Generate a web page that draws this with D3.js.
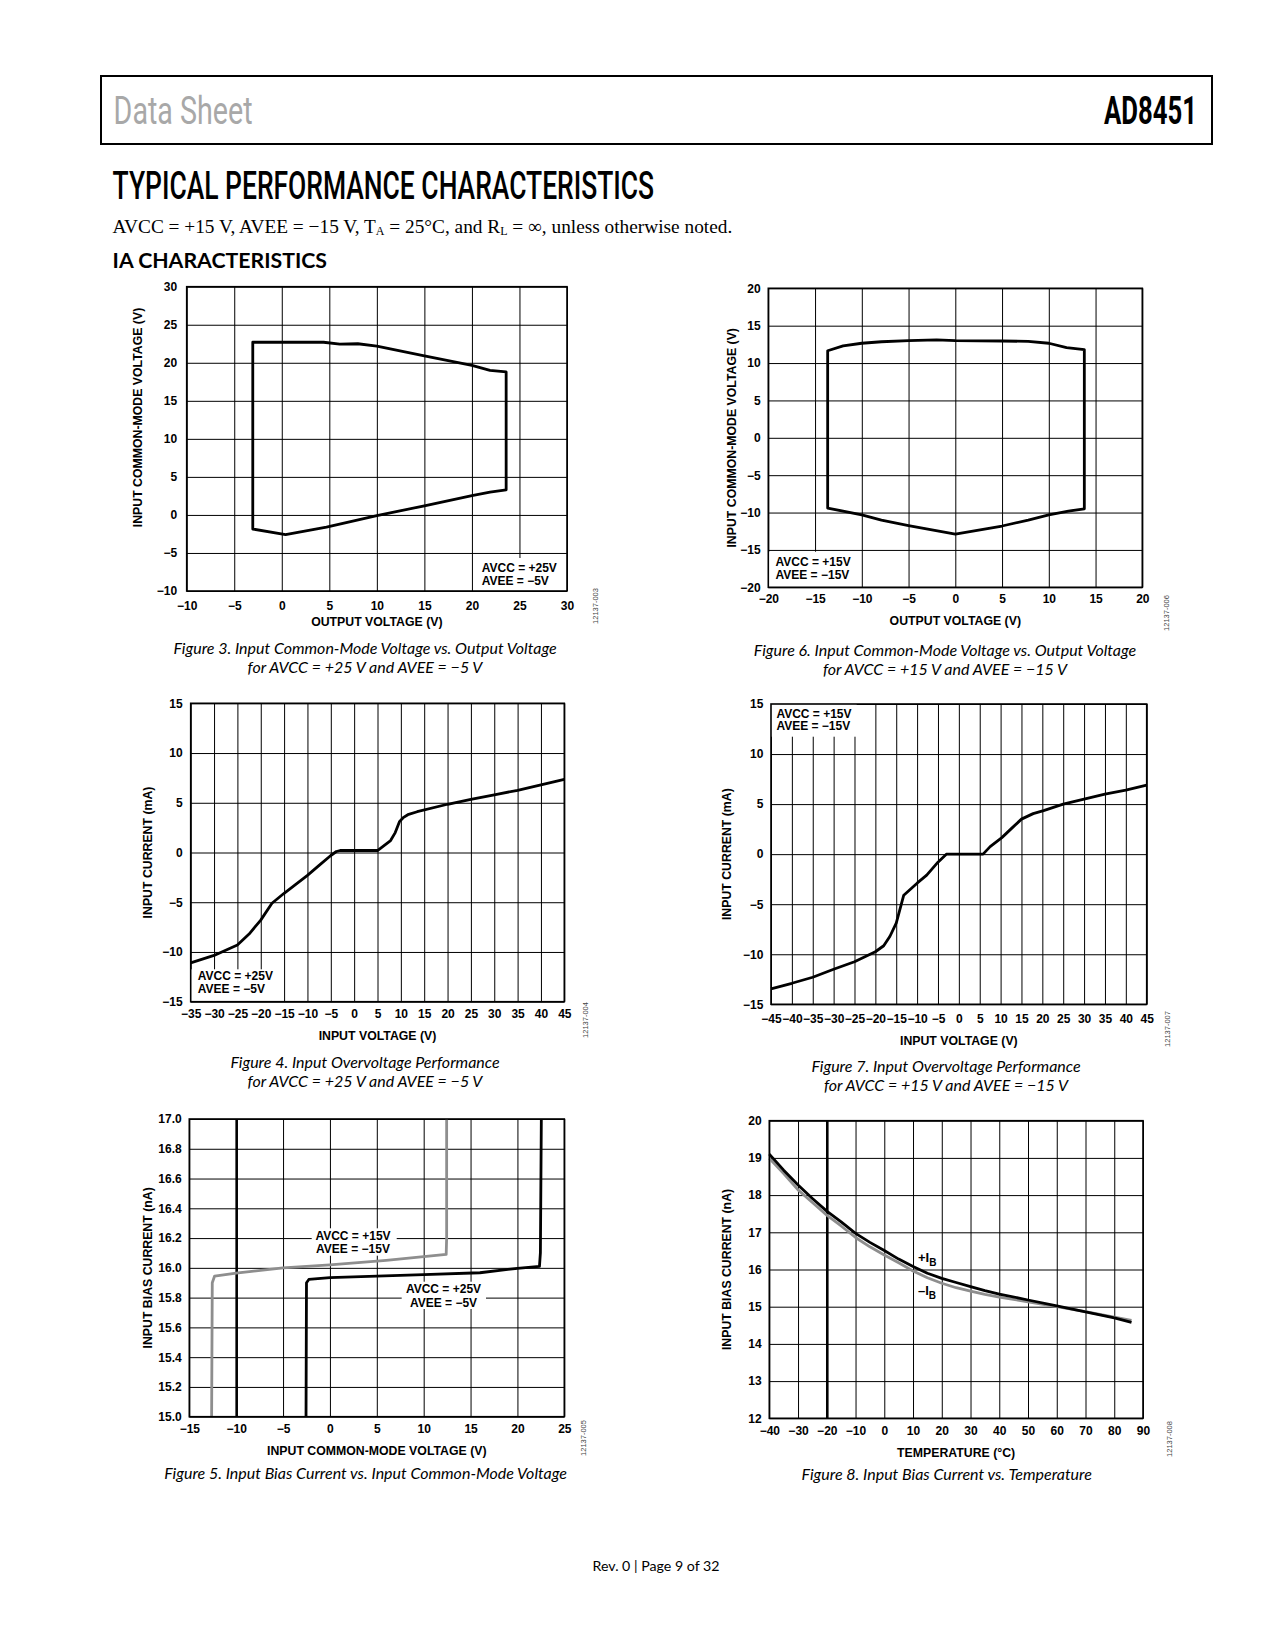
<!DOCTYPE html>
<html><head><meta charset="utf-8">
<script src="https://cdn.jsdelivr.net/npm/d3@7"></script>
<style>body{margin:0;background:#fff} svg{display:block}</style>
</head><body>
<svg id="page" width="1275" height="1650"></svg>
<script>
// ---------- DATA ----------
// Figure 3: IA common-mode vs output voltage, AVCC=+25V, AVEE=-5V (closed contour)
const fig3X = [-3.05, 4.4, 6.1, 8.0, 10.0, 15.0, 20.0, 21.9, 23.6, 23.6, 21.9, 20.0, 15.0, 10.0, 4.7, 0.4, -3.05];
const fig3Y = [22.7, 22.7, 22.45, 22.5, 22.2, 20.9, 19.65, 19.0, 18.8, 3.3, 3.0, 2.55, 1.2, -0.1, -1.6, -2.6, -1.85];
// Figure 6: AVCC=+15V, AVEE=-15V (closed contour)
const fig6X = [-13.65, -12, -10, -7.9, -5, -2, 0, 5, 7.8, 10, 11.9, 13.8, 13.8, 12.1, 10, 7.8, 5, 0, -5, -7.9, -10, -13.65];
const fig6Y = [11.65, 12.3, 12.65, 12.85, 13.0, 13.1, 13.0, 12.95, 12.9, 12.65, 12.05, 11.8, -9.5, -9.8, -10.3, -11.0, -11.8, -12.9, -11.75, -11.0, -10.3, -9.4];
// Figure 4: input overvoltage, AVCC=+25V, AVEE=-5V
const fig4X = [-35, -30, -25, -22.5, -20, -17.6, -15, -12.5, -10, -7.5, -5, -3.8, -3, 5, 7.8, 8.8, 9.7, 10.5, 11.5, 13.5, 20, 25, 30, 35, 40, 45];
const fig4Y = [-11.1, -10.35, -9.3, -8.2, -6.8, -5.1, -4.1, -3.2, -2.3, -1.3, -0.3, 0.1, 0.2, 0.2, 1.2, 2.0, 3.1, 3.5, 3.8, 4.1, 4.85, 5.35, 5.8, 6.25, 6.8, 7.35];
// Figure 7: input overvoltage, AVCC=+15V, AVEE=-15V
const fig7X = [-45, -40, -35, -30, -25, -20, -18, -16.5, -15, -13.2, -10, -7.7, -5, -3, 5.8, 7.5, 10.3, 12.7, 15, 17.8, 20.3, 25, 30, 35, 40, 45];
const fig7Y = [-13.45, -12.9, -12.3, -11.5, -10.75, -9.75, -9.15, -8.2, -6.9, -4.1, -2.9, -2.1, -0.8, 0, 0, 0.75, 1.65, 2.6, 3.5, 4.05, 4.35, 5.0, 5.5, 6.0, 6.4, 6.9];
// Figure 5: input bias current vs common-mode voltage
const fig5GrayX = [-12.62, -12.55, -12.3, -10, -5, 0, 6, 10, 12.4, 12.45, 12.45];
const fig5GrayY = [15.0, 15.9, 15.945, 15.965, 16.0, 16.02, 16.05, 16.075, 16.09, 16.2, 17.0];
const fig5BlackX = [-2.55, -2.5, -2.25, 0, 5, 10, 16, 20, 22.35, 22.45, 22.55];
const fig5BlackY = [15.0, 15.9, 15.922, 15.935, 15.945, 15.955, 15.967, 15.997, 16.01, 16.1, 17.0];
// Figure 8: input bias current vs temperature
const fig8T = [-40, -35, -30, -25, -20, -15, -10, -5, 0, 5, 10, 15, 20, 25, 30, 35, 40, 50, 60, 70, 80, 86];
const fig8Pos = [19.1, 18.67, 18.27, 17.91, 17.57, 17.28, 16.97, 16.73, 16.51, 16.28, 16.08, 15.9, 15.76, 15.65, 15.54, 15.43, 15.34, 15.18, 15.02, 14.86, 14.7, 14.58];
const fig8Neg = [18.99, 18.58, 18.14, 17.8, 17.46, 17.17, 16.86, 16.61, 16.39, 16.18, 15.96, 15.78, 15.63, 15.51, 15.42, 15.33, 15.26, 15.13, 15.0, 14.87, 14.72, 14.63];

// tick values
const ticks3X = d3.range(-10, 31, 5), ticks3Y = d3.range(-10, 31, 5);
const ticks6X = d3.range(-20, 21, 5), ticks6Y = d3.range(-20, 21, 5);
const ticks4X = d3.range(-35, 46, 5), ticks4Y = d3.range(-15, 16, 5);
const ticks7X = d3.range(-45, 46, 5), ticks7Y = d3.range(-15, 16, 5);
const ticks5X = d3.range(-15, 26, 5), ticks5Y = [15.0, 15.2, 15.4, 15.6, 15.8, 16.0, 16.2, 16.4, 16.6, 16.8, 17.0];
const ticks8X = d3.range(-40, 91, 10), ticks8Y = d3.range(12, 21, 1);

// ---------- DRAW ----------
const svg = d3.select('#page');
svg.append('rect').attr('width', 1275).attr('height', 1650).attr('fill', '#fff');
const SANS = "'Liberation Sans', Arial, Helvetica, sans-serif";
const MYR = "Lato, 'Open Sans', 'Noto Sans', sans-serif";

function fit(t, w) {
  const fs = parseFloat(t.attr('font-size'));
  const L = t.node().getComputedTextLength();
  t.attr('font-size', (fs * w / L).toFixed(2));
  return fs * w / L;
}

// Header
svg.append('rect').attr('x', 101).attr('y', 76).attr('width', 1111).attr('height', 68)
  .attr('fill', 'none').attr('stroke', '#000').attr('stroke-width', 2);
svg.append('text').attr('x', 113.6).attr('y', 124).attr('font-family', 'Roboto, sans-serif')
  .attr('font-size', 38).attr('fill', '#a8a8a8').attr('textLength', 139).attr('lengthAdjust', 'spacingAndGlyphs')
  .text('Data Sheet');
svg.append('text').attr('x', 1197).attr('y', 124).attr('text-anchor', 'end').attr('font-family', 'Roboto, sans-serif')
  .attr('font-weight', 700).attr('font-size', 38).attr('fill', '#000').attr('textLength', 93).attr('lengthAdjust', 'spacingAndGlyphs')
  .text('AD8451');
svg.append('text').attr('x', 112.6).attr('y', 199).attr('font-family', 'Roboto, sans-serif')
  .attr('font-weight', 500).attr('font-size', 38).attr('fill', '#000').attr('textLength', 541.5).attr('lengthAdjust', 'spacingAndGlyphs')
  .text('TYPICAL PERFORMANCE CHARACTERISTICS');
const sub = svg.append('text').attr('x', 112.6).attr('y', 232.5).attr('font-family', "'Liberation Serif', 'Times New Roman', serif")
  .attr('font-size', 16).attr('fill', '#000');
sub.append('tspan').text('AVCC = +15 V, AVEE = \u221215 V, T');
sub.append('tspan').attr('font-size', '0.62em').attr('dy', 2).text('A');
sub.append('tspan').attr('dy', -2).text(' = 25\u00B0C, and R');
sub.append('tspan').attr('font-size', '0.62em').attr('dy', 2).text('L');
sub.append('tspan').attr('dy', -2).text(' = \u221E, unless otherwise noted.');
fit(sub, 620);
const ia = svg.append('text').attr('x', 112.6).attr('y', 268).attr('font-family', MYR).attr('font-weight', 700)
  .attr('font-size', 20).attr('fill', '#000').text('IA CHARACTERISTICS');
fit(ia, 214.5);

// Footer
const foot = svg.append('text').attr('x', 656).attr('y', 1571).attr('text-anchor', 'middle')
  .attr('font-family', MYR).attr('font-size', 13).attr('fill', '#000').text('Rev. 0 | Page 9 of 32');
fit(foot, 127);

function zip(a, b) { return a.map((v, i) => [v, b[i]]); }

// caption font size calibrated on Figure 3 line 1 width
let capSize = 14;
{
  const tmp = svg.append('text').attr('font-family', MYR).attr('font-style', 'italic').attr('font-size', 14)
    .text('Figure 3. Input Common-Mode Voltage vs. Output Voltage');
  capSize = 14 * 383.4 / tmp.node().getComputedTextLength();
  tmp.remove();
}

function drawChart(c) {
  const [l, t, r, b] = c.box, w = r - l, h = b - t;
  const g = svg.append('g').attr('transform', `translate(${l},${t})`);
  const x = d3.scaleLinear().domain(c.xDomain).range([0, w]);
  const y = d3.scaleLinear().domain(c.yDomain).range([h, 0]);
  const xa = g.append('g').attr('transform', `translate(0,${h})`)
    .call(d3.axisBottom(x).tickValues(c.xTicks).tickSize(-h).tickSizeOuter(0).tickPadding(c.xPad).tickFormat(d3.format('d')));
  const ya = g.append('g')
    .call(d3.axisLeft(y).tickValues(c.yTicks).tickSize(-w).tickSizeOuter(0).tickPadding(c.yPad).tickFormat(c.yFmt || d3.format('d')));
  [xa, ya].forEach(a => {
    a.select('.domain').remove();
    a.attr('font-family', SANS).attr('font-size', 12).attr('font-weight', 700);
    a.selectAll('text').attr('fill', '#000');
    a.selectAll('line').attr('stroke', '#000').attr('stroke-width', 1);
  });
  if (c.thickX !== undefined) {
    xa.selectAll('.tick').filter(d => d === c.thickX).select('line').attr('stroke-width', 2.6);
  }
  // legend boxes (white, hide grid)
  (c.boxes || []).forEach(bx => {
    g.append('rect').attr('x', bx[0] - l).attr('y', bx[1] - t).attr('width', bx[2] - bx[0]).attr('height', bx[3] - bx[1]).attr('fill', '#fff');
  });
  // series
  c.series.forEach(s => {
    const line = d3.line().x(d => x(d[0])).y(d => y(d[1])).curve(s.closed ? d3.curveLinearClosed : d3.curveLinear);
    g.append('path').attr('d', line(s.data)).attr('fill', 'none').attr('stroke', s.color)
      .attr('stroke-width', 2.8).attr('stroke-linejoin', 'round').attr('stroke-linecap', 'butt');
  });
  // frame
  g.append('rect').attr('width', w).attr('height', h).attr('fill', 'none').attr('stroke', '#000').attr('stroke-width', 1.6);
  // labels
  (c.labels || []).forEach(lb => {
    const tx = svg.append('text').attr('x', lb.x).attr('y', lb.y).attr('font-family', SANS).attr('font-weight', 700)
      .attr('font-size', lb.size || 12).attr('fill', '#000').attr('text-anchor', lb.anchor || 'start');
    if (lb.sub) {
      tx.append('tspan').text(lb.text);
      tx.append('tspan').attr('font-size', 10).attr('dy', 4).text(lb.sub);
    } else tx.text(lb.text);
  });
  // axis titles
  svg.append('text').attr('x', (l + r) / 2).attr('y', b + c.xTitleOff).attr('text-anchor', 'middle')
    .attr('font-family', SANS).attr('font-weight', 700).attr('font-size', 12.3).attr('fill', '#000').text(c.xTitle);
  const yc = c.yTitleY !== undefined ? c.yTitleY : (t + b) / 2;
  svg.append('text').attr('transform', `translate(${c.yTitleX},${yc}) rotate(-90)`).attr('text-anchor', 'middle')
    .attr('font-family', SANS).attr('font-weight', 700).attr('font-size', 12.3).attr('fill', '#000').text(c.yTitle);
  // figure id
  svg.append('text').attr('transform', `translate(${c.id[1]},${c.id[2]}) rotate(-90)`).attr('text-anchor', 'middle')
    .attr('font-family', SANS).attr('font-size', 7.5).attr('fill', '#444').text(c.id[0]);
  // caption
  c.caption.forEach((cl, i) => {
    svg.append('text').attr('x', c.capX).attr('y', c.capY[i]).attr('text-anchor', 'middle')
      .attr('font-family', MYR).attr('font-style', 'italic').attr('font-size', capSize).attr('fill', '#000').text(cl);
  });
}

drawChart({
  box: [186.7, 286.7, 567, 591], xDomain: [-10, 30], yDomain: [-10, 30], xTicks: ticks3X, yTicks: ticks3Y,
  xPad: 10.5, yPad: 9.5, xTitleOff: 35, yTitleX: 142, yTitleY: 417.5,
  xTitle: 'OUTPUT VOLTAGE (V)', yTitle: 'INPUT COMMON-MODE VOLTAGE (V)',
  boxes: [[478, 558, 567, 591]],
  series: [{ data: zip(fig3X, fig3Y), color: '#000', closed: true }],
  labels: [{ x: 481.7, y: 572.3, text: 'AVCC = +25V' }, { x: 481.7, y: 585, text: 'AVEE = \u22125V' }],
  id: ['12137-003', 598, 606],
  caption: ['Figure 3. Input Common-Mode Voltage vs. Output Voltage', 'for AVCC = +25 V and AVEE = \u22125 V'],
  capX: 365, capY: [654, 672.5]
});

drawChart({
  box: [768.3, 288.3, 1142.3, 587.3], xDomain: [-20, 20], yDomain: [-20, 20], xTicks: ticks6X, yTicks: ticks6Y,
  xPad: 7.5, yPad: 7.6, xTitleOff: 38, yTitleX: 735.5,
  xTitle: 'OUTPUT VOLTAGE (V)', yTitle: 'INPUT COMMON-MODE VOLTAGE (V)',
  boxes: [[768.3, 551.7, 859, 587.3]],
  series: [{ data: zip(fig6X, fig6Y), color: '#000', closed: true }],
  labels: [{ x: 775.5, y: 566, text: 'AVCC = +15V' }, { x: 775.5, y: 578.5, text: 'AVEE = \u221215V' }],
  id: ['12137-006', 1169, 613],
  caption: ['Figure 6. Input Common-Mode Voltage vs. Output Voltage', 'for AVCC = +15 V and AVEE = \u221215 V'],
  capX: 945, capY: [655.5, 674.5]
});

drawChart({
  box: [190.7, 703.3, 564.3, 1001.7], xDomain: [-35, 45], yDomain: [-15, 15], xTicks: ticks4X, yTicks: ticks4Y,
  xPad: 7.8, yPad: 8, xTitleOff: 38.3, yTitleX: 151.5,
  xTitle: 'INPUT VOLTAGE (V)', yTitle: 'INPUT CURRENT (mA)',
  boxes: [[190.7, 969.3, 276.7, 1001.7]],
  series: [{ data: zip(fig4X, fig4Y), color: '#000' }],
  labels: [{ x: 197.8, y: 980, text: 'AVCC = +25V' }, { x: 197.8, y: 993, text: 'AVEE = \u22125V' }],
  id: ['12137-004', 588, 1020],
  caption: ['Figure 4. Input Overvoltage Performance', 'for AVCC = +25 V and AVEE = \u22125 V'],
  capX: 365, capY: [1068, 1087]
});

drawChart({
  box: [771, 704, 1146.7, 1004.3], xDomain: [-45, 45], yDomain: [-15, 15], xTicks: ticks7X, yTicks: ticks7Y,
  xPad: 9.7, yPad: 7.7, xTitleOff: 40.7, yTitleX: 731,
  xTitle: 'INPUT VOLTAGE (V)', yTitle: 'INPUT CURRENT (mA)',
  boxes: [[771, 704, 856.7, 736.7]],
  series: [{ data: zip(fig7X, fig7Y), color: '#000' }],
  labels: [{ x: 776.4, y: 717.5, text: 'AVCC = +15V' }, { x: 776.4, y: 730, text: 'AVEE = \u221215V' }],
  id: ['12137-007', 1170, 1029],
  caption: ['Figure 7. Input Overvoltage Performance', 'for AVCC = +15 V and AVEE = \u221215 V'],
  capX: 946, capY: [1072, 1091]
});

drawChart({
  box: [189.3, 1119, 564.3, 1416.7], xDomain: [-15, 25], yDomain: [15, 17], xTicks: ticks5X, yTicks: ticks5Y,
  yFmt: d3.format('.1f'), thickX: -10,
  xPad: 7.8, yPad: 7.6, xTitleOff: 38.5, yTitleX: 151.5,
  xTitle: 'INPUT COMMON-MODE VOLTAGE (V)', yTitle: 'INPUT BIAS CURRENT (nA)',
  boxes: [[311.7, 1228.3, 396.7, 1255.7], [401.7, 1281.7, 486, 1309]],
  series: [{ data: zip(fig5GrayX, fig5GrayY), color: '#8e8e8e' }, { data: zip(fig5BlackX, fig5BlackY), color: '#000' }],
  labels: [
    { x: 353, y: 1240, text: 'AVCC = +15V', anchor: 'middle' }, { x: 353, y: 1253, text: 'AVEE = \u221215V', anchor: 'middle' },
    { x: 443.5, y: 1293.3, text: 'AVCC = +25V', anchor: 'middle' }, { x: 443.5, y: 1306.5, text: 'AVEE = \u22125V', anchor: 'middle' }
  ],
  id: ['12137-005', 586, 1438],
  caption: ['Figure 5. Input Bias Current vs. Input Common-Mode Voltage'],
  capX: 365.5, capY: [1479]
});

drawChart({
  box: [769.3, 1120.7, 1143, 1418.3], xDomain: [-40, 90], yDomain: [12, 20], xTicks: ticks8X, yTicks: ticks8Y,
  thickX: -20,
  xPad: 8.2, yPad: 7.6, xTitleOff: 38.7, yTitleX: 731,
  xTitle: 'TEMPERATURE (\u00B0C)', yTitle: 'INPUT BIAS CURRENT (nA)',
  series: [{ data: zip(fig8T, fig8Neg), color: '#8e8e8e' }, { data: zip(fig8T, fig8Pos), color: '#000' }],
  labels: [{ x: 918, y: 1261.5, text: '+I', sub: 'B', size: 13 }, { x: 918, y: 1295, text: '\u2013I', sub: 'B', size: 13 }],
  id: ['12137-008', 1172, 1439],
  caption: ['Figure 8. Input Bias Current vs. Temperature'],
  capX: 946.7, capY: [1480]
});
</script>
</body></html>
